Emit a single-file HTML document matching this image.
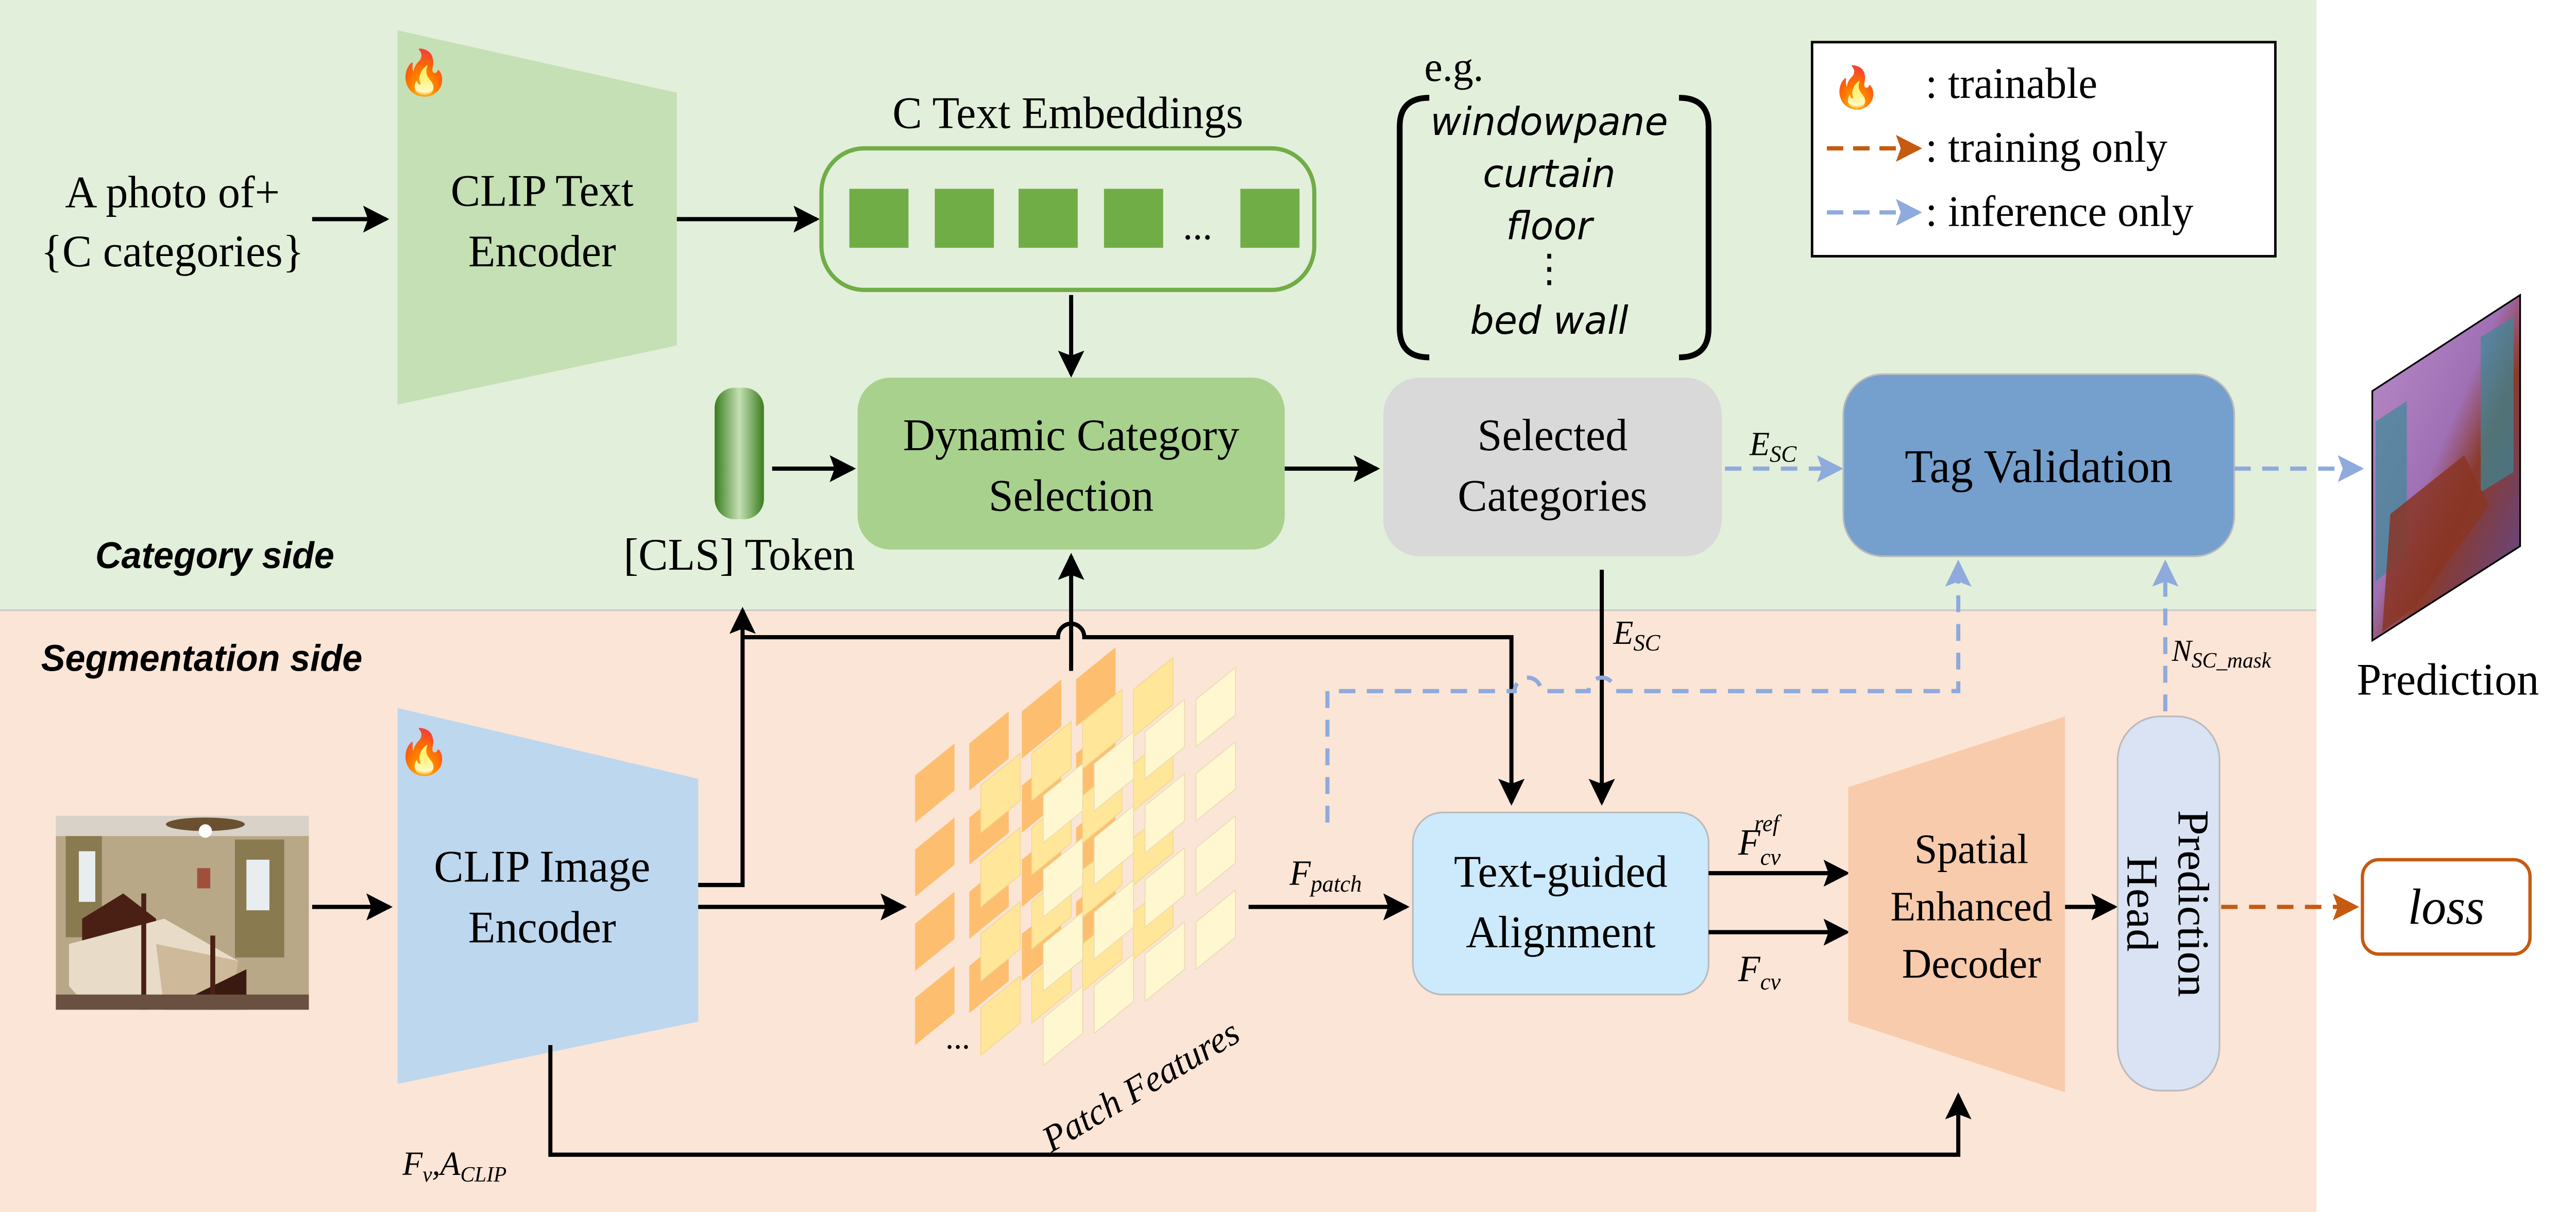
<!DOCTYPE html>
<html><head><meta charset="utf-8"><style>html,body{margin:0;padding:0;background:#fff;overflow:hidden}svg{display:block;position:absolute;left:0;top:0;width:100vw;height:100vh}</style></head>
<body>
<svg viewBox="0 0 1568 719" preserveAspectRatio="none" xmlns="http://www.w3.org/2000/svg" font-family="Liberation Serif, serif">
<defs>
<marker id="a" markerWidth="16" markerHeight="16" refX="14" refY="8" orient="auto" markerUnits="userSpaceOnUse"><path d="M0,0 L16,8 L0,16 L3,8 Z" fill="#000"/></marker>
<marker id="b" markerWidth="16" markerHeight="16" refX="14" refY="8" orient="auto" markerUnits="userSpaceOnUse"><path d="M0,0 L16,8 L0,16 L3,8 Z" fill="#8faadc"/></marker>
<marker id="o" markerWidth="16" markerHeight="16" refX="14" refY="8" orient="auto" markerUnits="userSpaceOnUse"><path d="M0,0 L16,8 L0,16 L3,8 Z" fill="#c55a11"/></marker>
<linearGradient id="cls" x1="0" x2="1"><stop offset="0" stop-color="#3a7d1e"/><stop offset="0.5" stop-color="#c5e0b4"/><stop offset="1" stop-color="#3a7d1e"/></linearGradient>
<linearGradient id="pred" x1="0" y1="0" x2="1" y2="1"><stop offset="0" stop-color="#b98cc8"/><stop offset="0.45" stop-color="#a070b5"/><stop offset="0.6" stop-color="#8a3a2a"/><stop offset="1" stop-color="#5a4aa0"/></linearGradient>
<path id="c" d="M0,0 L24,-19 L24,-47 L0,-28 Z"/>
</defs>
<rect x="0" y="0" width="1410" height="362" fill="#e2efda"/>
<rect x="0" y="362" width="1410" height="357" fill="#fbe5d6"/>
<line x1="0" y1="362" x2="1410" y2="362" stroke="#ccc" stroke-width="1"/>

<g font-size="27" text-anchor="middle">
<text x="105" y="123">A photo of+</text>
<text x="105" y="158">{C categories}</text>
</g>
<line x1="190" y1="130" x2="235" y2="130" stroke="#000" stroke-width="2.5" marker-end="url(#a)"/>
<path d="M242,18 L412,55 L412,205 L242,240 Z" fill="#c5e0b4"/>
<text x="258" y="52" font-size="26" text-anchor="middle">🔥</text>
<g font-size="27" text-anchor="middle"><text x="330" y="122">CLIP Text</text><text x="330" y="158">Encoder</text></g>
<line x1="412" y1="130" x2="497" y2="130" stroke="#000" stroke-width="2.5" marker-end="url(#a)"/>

<text x="650" y="76" font-size="27" text-anchor="middle">C Text Embeddings</text>
<rect x="500" y="88" width="300" height="84" rx="26" fill="none" stroke="#70ad47" stroke-width="2.5"/>
<g fill="#70ad47"><rect x="517" y="112" width="36" height="35"/><rect x="569" y="112" width="36" height="35"/><rect x="620" y="112" width="36" height="35"/><rect x="672" y="112" width="36" height="35"/><rect x="755" y="112" width="36" height="35"/></g>
<text x="729" y="142" font-size="24" text-anchor="middle">...</text>
<line x1="652" y1="175" x2="652" y2="222" stroke="#000" stroke-width="2.5" marker-end="url(#a)"/>

<rect x="522" y="224" width="260" height="102" rx="20" fill="#a9d18e"/>
<g font-size="27" text-anchor="middle"><text x="652" y="267">Dynamic Category</text><text x="652" y="303">Selection</text></g>
<rect x="435" y="230" width="30" height="78" rx="12" fill="url(#cls)"/>
<line x1="470" y1="278" x2="519" y2="278" stroke="#000" stroke-width="2.5" marker-end="url(#a)"/>
<text x="450" y="338" font-size="27" text-anchor="middle">[CLS] Token</text>
<line x1="782" y1="278" x2="838" y2="278" stroke="#000" stroke-width="2.5" marker-end="url(#a)"/>

<rect x="842" y="224" width="206" height="106" rx="22" fill="#d9d9d9"/>
<g font-size="27" text-anchor="middle"><text x="945" y="267">Selected</text><text x="945" y="303">Categories</text></g>

<text x="885" y="48" font-size="25" text-anchor="middle">e.g.</text>
<path d="M870,58 Q852,58 852,75 L852,195 Q852,212 870,212" fill="none" stroke="#000" stroke-width="3.5"/>
<path d="M1022,58 Q1040,58 1040,75 L1040,195 Q1040,212 1022,212" fill="none" stroke="#000" stroke-width="3.5"/>
<g font-family="DejaVu Sans, sans-serif" font-style="italic" font-size="23" text-anchor="middle">
<text x="943" y="80">windowpane</text><text x="943" y="111">curtain</text><text x="943" y="142">floor</text><text x="943" y="167">⋮</text><text x="943" y="198">bed  wall</text></g>

<line x1="1050" y1="278" x2="1120" y2="278" stroke="#8faadc" stroke-width="2.5" stroke-dasharray="10,7" marker-end="url(#b)"/>
<text x="1065" y="270" font-size="20" font-style="italic">E<tspan font-size="14" dy="4">SC</tspan></text>
<rect x="1122" y="222" width="238" height="108" rx="24" fill="#75a0cd" stroke="#bbb" stroke-width="1"/>
<text x="1241" y="286" font-size="28" text-anchor="middle">Tag Validation</text>
<line x1="1360" y1="278" x2="1437" y2="278" stroke="#8faadc" stroke-width="2.5" stroke-dasharray="10,7" marker-end="url(#b)"/>
<path d="M1444,232 L1534,175 L1534,324 L1444,380 Z" fill="url(#pred)" stroke="#000" stroke-width="1"/>
<path d="M1446,250 L1465,238 L1465,330 L1446,345 Z" fill="#3a8a95" opacity="0.7"/>
<path d="M1510,200 L1530,188 L1530,280 L1510,292 Z" fill="#3a8a95" opacity="0.7"/>
<path d="M1455,305 L1500,270 L1515,300 L1470,360 L1450,375 Z" fill="#8a3525" opacity="0.85"/>
<text x="1490" y="412" font-size="27" text-anchor="middle">Prediction</text>

<rect x="1103" y="25" width="282" height="127" fill="#fff" stroke="#000" stroke-width="1.5"/>
<text x="1130" y="60" font-size="24" text-anchor="middle">🔥</text>
<g font-size="26"><text x="1172" y="58">:  trainable</text><text x="1172" y="96">:  training only</text><text x="1172" y="134">:  inference only</text></g>
<line x1="1112" y1="88" x2="1168" y2="88" stroke="#c55a11" stroke-width="2.5" stroke-dasharray="10,6" marker-end="url(#o)"/>
<line x1="1112" y1="126" x2="1168" y2="126" stroke="#8faadc" stroke-width="2.5" stroke-dasharray="10,6" marker-end="url(#b)"/>

<g font-family="Liberation Sans, sans-serif" font-weight="bold" font-style="italic" font-size="22">
<text x="58" y="337">Category  side</text><text x="25" y="398">Segmentation side</text></g>

<!-- photo -->
<g>
<rect x="34" y="484" width="154" height="115" fill="#b8a888"/>
<rect x="34" y="484" width="154" height="12" fill="#d8d2c8"/>
<rect x="40" y="496" width="22" height="60" fill="#8a7a50"/><rect x="48" y="505" width="10" height="30" fill="#e8eef0"/>
<rect x="143" y="498" width="30" height="70" fill="#8a7a50"/><rect x="150" y="510" width="14" height="30" fill="#e8eef0"/>
<ellipse cx="125" cy="489" rx="24" ry="4" fill="#6a5030"/><circle cx="125" cy="493" r="4" fill="#fff"/>
<rect x="120" y="515" width="8" height="12" fill="#a0503a"/>
<path d="M50,545 L75,530 L95,545 L95,560 L50,560 Z" fill="#4a2015"/>
<path d="M42,560 L100,545 L145,570 L140,599 L55,599 L42,585 Z" fill="#e8dcc8"/>
<path d="M95,560 L145,570 L140,599 L100,599 Z" fill="#c8b090" opacity="0.8"/>
<path d="M100,599 L150,575 L150,599 Z" fill="#3a1a10"/>
<rect x="86" y="530" width="3" height="69" fill="#4a2015"/><rect x="128" y="555" width="3" height="44" fill="#4a2015"/>
<rect x="34" y="590" width="154" height="9" fill="#6a5040"/>
</g>
<line x1="190" y1="538" x2="237" y2="538" stroke="#000" stroke-width="2.5" marker-end="url(#a)"/>
<path d="M242,420 L425,462 L425,606 L242,643 Z" fill="#bdd7ee"/>
<text x="258" y="455" font-size="26" text-anchor="middle">🔥</text>
<g font-size="27" text-anchor="middle"><text x="330" y="523">CLIP Image</text><text x="330" y="559">Encoder</text></g>

<path d="M425,525 L452,525 L452,362" fill="none" stroke="#000" stroke-width="2.5" marker-end="url(#a)"/>
<path d="M452,378 L644,378 A8,8 0 0 1 660,378 L920,378 L920,476" fill="none" stroke="#000" stroke-width="2.5" marker-end="url(#a)"/>
<line x1="652" y1="398" x2="652" y2="330" stroke="#000" stroke-width="2.5" marker-end="url(#a)"/>
<line x1="425" y1="538" x2="550" y2="538" stroke="#000" stroke-width="2.5" marker-end="url(#a)"/>

<!-- patch features -->
<g fill="#fdbf6f">
<use href="#c" x="557" y="488"/><use href="#c" x="557" y="532"/><use href="#c" x="557" y="576"/><use href="#c" x="557" y="620"/>
<use href="#c" x="590" y="469"/><use href="#c" x="590" y="513"/><use href="#c" x="590" y="557"/><use href="#c" x="590" y="601"/>
<use href="#c" x="622" y="450"/><use href="#c" x="622" y="494"/><use href="#c" x="622" y="538"/><use href="#c" x="622" y="582"/>
<use href="#c" x="655" y="431"/><use href="#c" x="655" y="475"/><use href="#c" x="655" y="519"/><use href="#c" x="655" y="563"/>
</g>
<g fill="#ffe699" stroke="#f0d890" stroke-width="0.5">
<use href="#c" x="597" y="494"/><use href="#c" x="597" y="538"/><use href="#c" x="597" y="582"/><use href="#c" x="597" y="626"/>
<use href="#c" x="628" y="475"/><use href="#c" x="628" y="519"/><use href="#c" x="628" y="563"/><use href="#c" x="628" y="607"/>
<use href="#c" x="659" y="456"/><use href="#c" x="659" y="500"/><use href="#c" x="659" y="544"/><use href="#c" x="659" y="588"/>
<use href="#c" x="690" y="437"/><use href="#c" x="690" y="481"/><use href="#c" x="690" y="525"/><use href="#c" x="690" y="569"/>
</g>
<g fill="#fff7d0" stroke="#e8dcb0" stroke-width="0.5">
<use href="#c" x="635" y="500"/><use href="#c" x="635" y="544"/><use href="#c" x="635" y="588"/><use href="#c" x="635" y="632"/>
<use href="#c" x="666" y="481"/><use href="#c" x="666" y="525"/><use href="#c" x="666" y="569"/><use href="#c" x="666" y="613"/>
<use href="#c" x="697" y="462"/><use href="#c" x="697" y="506"/><use href="#c" x="697" y="550"/><use href="#c" x="697" y="594"/>
<use href="#c" x="728" y="443"/><use href="#c" x="728" y="487"/><use href="#c" x="728" y="531"/><use href="#c" x="728" y="575"/>
</g>
<text x="583" y="622" font-size="20" text-anchor="middle">...</text>
<text x="692" y="652" font-size="22" font-style="italic" text-anchor="middle" transform="rotate(-30 692 640)">Patch Features</text>

<line x1="760" y1="538" x2="856" y2="538" stroke="#000" stroke-width="2.5" marker-end="url(#a)"/>
<text x="785" y="525" font-size="21" font-style="italic">F<tspan font-size="14" dy="4">patch</tspan></text>
<rect x="860" y="482" width="180" height="108" rx="18" fill="#cdeafd" stroke="#bbb" stroke-width="1"/>
<g font-size="27" text-anchor="middle"><text x="950" y="526">Text-guided</text><text x="950" y="562">Alignment</text></g>

<line x1="975" y1="338" x2="975" y2="476" stroke="#000" stroke-width="2.5" marker-end="url(#a)"/>
<text x="982" y="382" font-size="20" font-style="italic">E<tspan font-size="14" dy="4">SC</tspan></text>
<path d="M808,488 L808,410 L922,410 A8,8 0 0 1 938,410 L967,410 A8,8 0 0 1 983,410 L1192,410 L1192,334" fill="none" stroke="#8faadc" stroke-width="2.5" stroke-dasharray="10,7" marker-end="url(#b)"/>

<line x1="1040" y1="518" x2="1124" y2="518" stroke="#000" stroke-width="2.5" marker-end="url(#a)"/>
<line x1="1040" y1="553" x2="1124" y2="553" stroke="#000" stroke-width="2.5" marker-end="url(#a)"/>
<text x="1058" y="507" font-size="22" font-style="italic">F<tspan font-size="14" dy="6">cv</tspan><tspan font-size="14" dx="-16" dy="-20">ref</tspan></text>
<text x="1058" y="582" font-size="22" font-style="italic">F<tspan font-size="14" dy="5">cv</tspan></text>

<path d="M1125,467 L1257,425 L1257,648 L1125,606 Z" fill="#f8cbad"/>
<g font-size="25" text-anchor="middle"><text x="1200" y="512">Spatial</text><text x="1200" y="546">Enhanced</text><text x="1200" y="580">Decoder</text></g>
<line x1="1257" y1="538" x2="1287" y2="538" stroke="#000" stroke-width="2.5" marker-end="url(#a)"/>
<rect x="1289" y="425" width="62" height="222" rx="26" fill="#dae3f3" stroke="#bbb" stroke-width="1"/>
<g font-size="27" text-anchor="middle" transform="rotate(90 1320 536)"><text x="1320" y="530">Prediction</text><text x="1320" y="561">Head</text></g>
<line x1="1318" y1="422" x2="1318" y2="334" stroke="#8faadc" stroke-width="2.5" stroke-dasharray="10,7" marker-end="url(#b)"/>
<text x="1322" y="392" font-size="18" font-style="italic">N<tspan font-size="13" dy="4">SC_mask</tspan></text>
<line x1="1352" y1="538" x2="1434" y2="538" stroke="#c55a11" stroke-width="2.5" stroke-dasharray="10,7" marker-end="url(#o)"/>
<rect x="1438" y="510" width="102" height="56" rx="10" fill="#fff" stroke="#c55a11" stroke-width="2"/>
<text x="1489" y="548" font-size="30" font-style="italic" text-anchor="middle">loss</text>

<path d="M335,620 L335,685 L1192,685 L1192,650" fill="none" stroke="#000" stroke-width="2.5" marker-end="url(#a)"/>
<text x="245" y="697" font-size="20" font-style="italic">F<tspan font-size="13" dy="4">v</tspan><tspan dy="-4">,A</tspan><tspan font-size="13" dy="4">CLIP</tspan></text>
</svg>
</body></html>
